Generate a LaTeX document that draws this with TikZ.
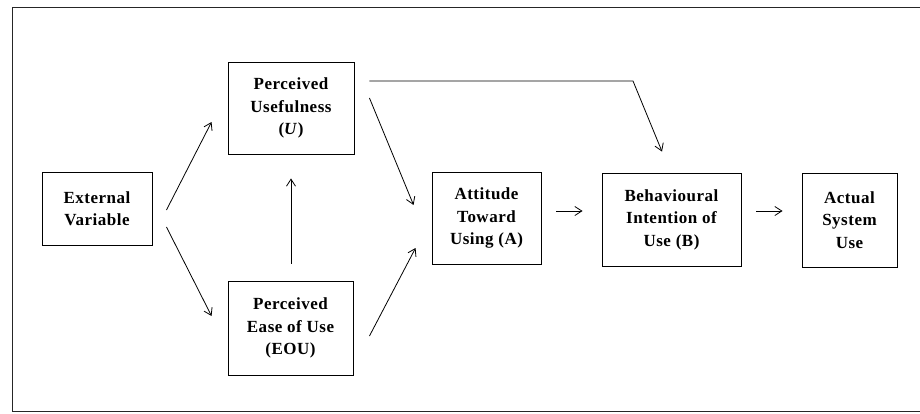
\documentclass[tikz,border=0pt]{standalone}
\usepackage{fontspec}
\setmainfont[LetterSpace=3]{Liberation Serif}
\usetikzlibrary{arrows.meta,calc}
\tikzset{
  >={Straight Barb[length=7pt,width=9pt]},
  tamBox/.style={draw,line width=0.9pt,fill=white,inner sep=2pt,align=center,
                 font=\fontsize{17}{22.5}\selectfont\bfseries},
  tamFlow/.style={->,line width=0.8pt},
  frameLine/.style={line width=0.9pt,black!85},
}

\begin{document}
\begin{tikzpicture}[x=1pt,y=-1pt]
\useasboundingbox (0,0) rectangle (920,413);

% Outer frame, open on the right edge of the scan.
\draw[frameLine] (920,7) -- (12,7) -- (12,411) -- (920,411);

% Constructs of the model.
\node[tamBox,minimum width=110,minimum height=73] (ext)  at (97,208.5)   {External\\Variable};
\node[tamBox,minimum width=126,minimum height=92] (pu)   at (291,108)    {Perceived\\Usefulness\\(\textit{U})};
\node[tamBox,minimum width=125,minimum height=94] (peou) at (290.5,328)  {Perceived\\Ease of Use\\(EOU)};
\node[tamBox,minimum width=109,minimum height=92] (att)  at (486.5,218)  {Attitude\\Toward\\Using (A)};
\node[tamBox,minimum width=139,minimum height=93] (bi)   at (671.5,219.5) {Behavioural\\Intention of\\Use (B)};
\node[tamBox,minimum width=95,minimum height=94]  (act)  at (849.5,220)  {Actual\\System\\Use};

% Links between the constructs.
\draw[tamFlow] ($(ext.east)+(14,1.5)$)  -- ($(pu.west)+(-16,14)$);
\draw[tamFlow] ($(ext.east)+(14,18.5)$) -- ($(peou.west)+(-16,-12)$);
\draw[tamFlow] ($(peou.north)+(0.5,-17)$) -- ($(pu.south)+(0,24)$);
\draw[tamFlow] ($(pu.east)+(15,-10)$)   -- ($(att.west)+(-18,-13)$);
\draw[tamFlow] ($(peou.east)+(16,8)$)   -- ($(att.west)+(-16,30)$);

\coordinate (uOut) at ($(pu.east)+(15,-27)$);
\draw[tamFlow] (uOut) -- ($(uOut -| bi.north)+(-38.5,0)$) -- ($(bi.north)+(-9.5,-21)$);

\draw[tamFlow] ($(att.east)+(15,-7)$) -- ($(att.east -| bi.west)+(-19,-7)$);
\draw[tamFlow] ($(bi.east)+(15,-8.5)$) -- ($(bi.east -| act.west)+(-19,-8.5)$);

\end{tikzpicture}
\end{document}
